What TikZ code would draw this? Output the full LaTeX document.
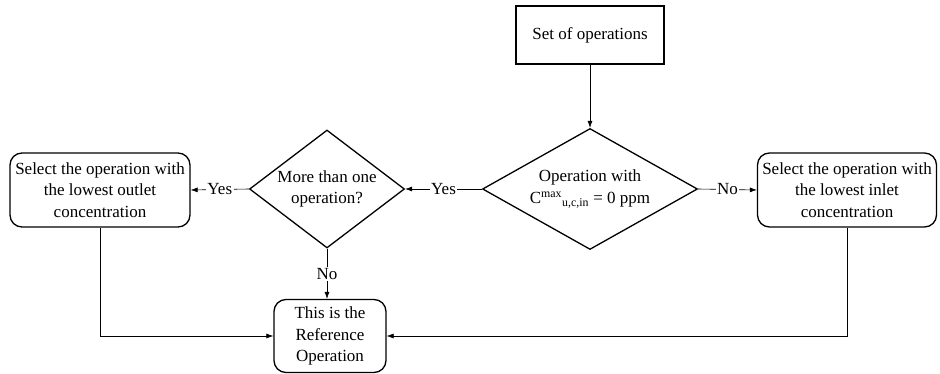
\documentclass[tikz,border=0pt]{standalone}
\usepackage{fontspec}
\setmainfont{Liberation Serif}
\usetikzlibrary{shapes.geometric, positioning, arrows.meta}

\begin{document}
\begin{tikzpicture}[x=1pt, y=-1pt,
          font=\fontsize{17}{21.5}\selectfont,
          proc/.style={rectangle, draw, line width=1.3pt, rounded corners=12pt,
                       align=center, inner sep=1pt},
          dec/.style={diamond, draw, line width=1.3pt, align=center, inner sep=0pt},
          arr/.style={-{Latex[length=7pt, width=5pt]}, line width=0.6pt},
          lbl/.style={fill=white, inner sep=1.5pt}
        ]
        \useasboundingbox (0,0) rectangle (940,374);

        \node[proc, rounded corners=0pt, minimum width=148pt, minimum height=58pt]
              (ops) at (590, 35) {Set of operations};

        \node[dec, minimum width=215pt, minimum height=121pt, aspect=1.78]
              (zero) at (590, 189)
              {Operation with\\C\textsuperscript{max}\textsubscript{u,c,in} = 0 ppm};
        \node[dec, minimum width=155pt, minimum height=118pt, aspect=1.31]
              (multi) at (327, 189) {More than one\\operation?};

        \node[proc, minimum width=180pt, minimum height=74pt]
              (outlet) at (100, 190)
              {Select the operation with\\the lowest outlet\\concentration};
        \node[proc, minimum width=179pt, minimum height=74pt]
              (inlet) at (847, 190)
              {Select the operation with\\the lowest inlet\\concentration};

        \node[proc, minimum width=112pt, minimum height=73pt]
              (ref) at (330, 336) {This is the\\Reference\\Operation};

        \draw[arr] (ops)        -- (zero);
        \draw[arr] (zero.west)  -- node[lbl] {Yes} (multi.east);
        \draw[arr] (multi.west) -- node[lbl] {Yes} (outlet.east);
        \draw[arr] (zero.east)  -- node[lbl] {No}  (inlet.west);
        \draw[arr] (multi.south) -- node[lbl] {No} (multi.south |- ref.north);
        \draw[arr] (outlet.south) |- (ref.west);
        \draw[arr] (inlet.south)  |- (ref.east);
      \end{tikzpicture}
\end{document}
